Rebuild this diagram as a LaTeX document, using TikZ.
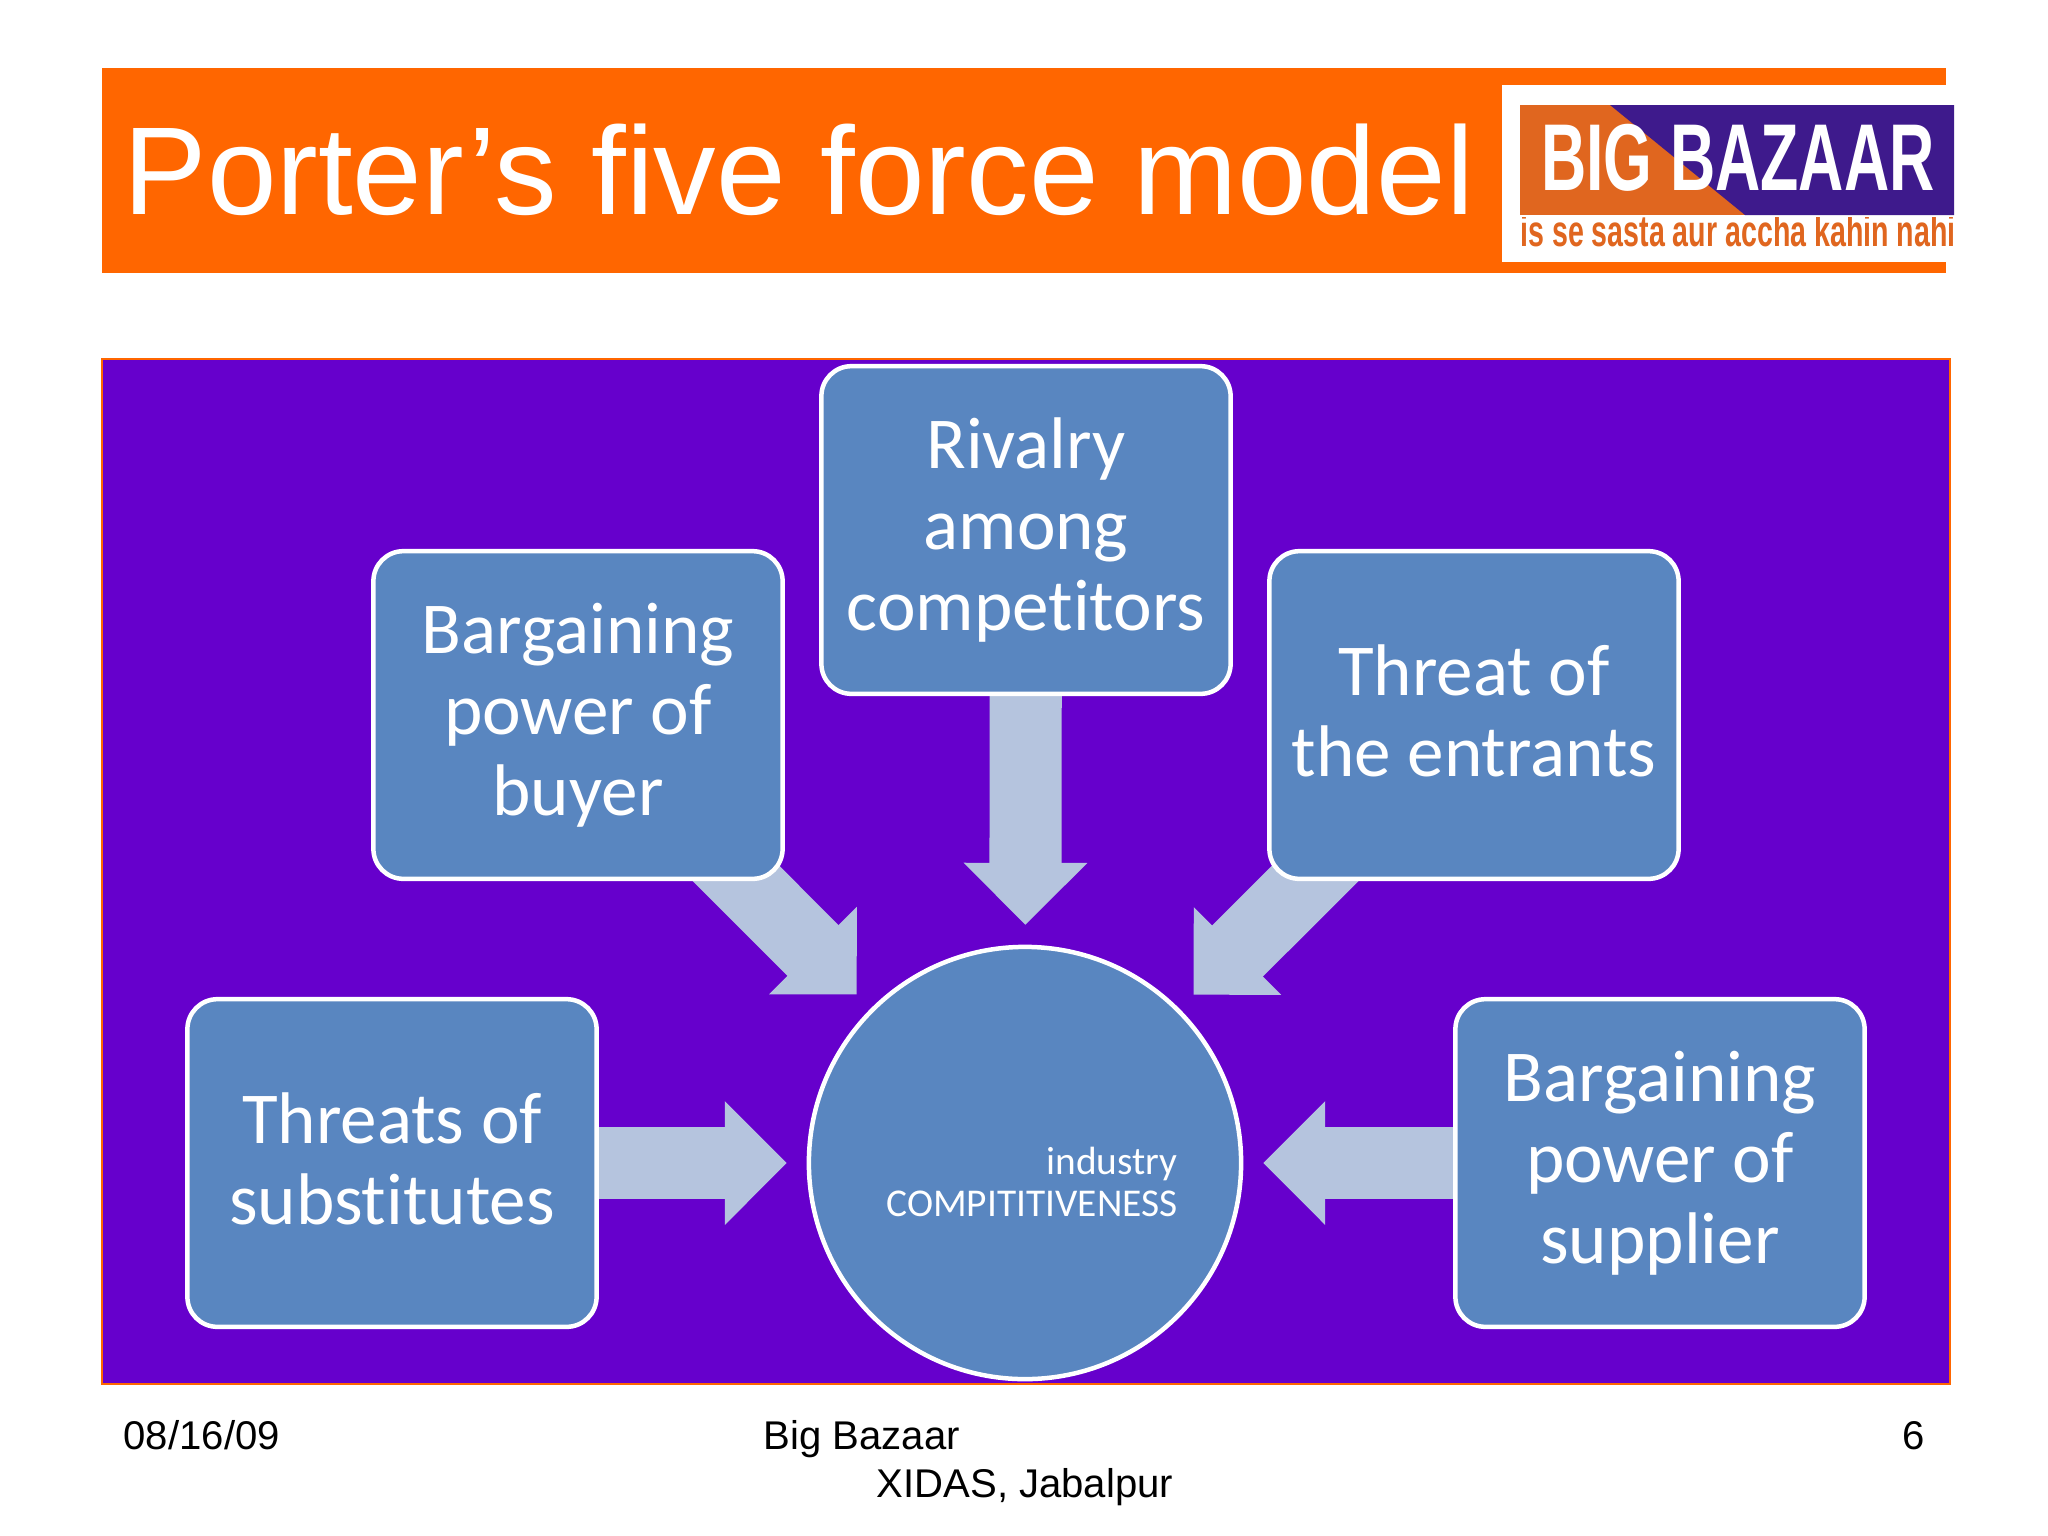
\documentclass[tikz,border=0pt]{standalone}
\usepackage{fontspec}
\setmainfont{Carlito}[Ligatures=NoCommon]
\newfontfamily\slidefont{Liberation Sans}
\usetikzlibrary{arrows.meta,backgrounds}
\definecolor{bannerorange}{HTML}{FF6600}
\definecolor{panelpurple}{HTML}{6600CC}
\definecolor{boxblue}{HTML}{5986C0}
\definecolor{arrowblue}{HTML}{B5C4DE}
\definecolor{logoorange}{HTML}{E0661F}
\definecolor{logopurple}{HTML}{3E1A8C}
\def\lowroom{\rule[-.12em]{0pt}{1pt}}
\tikzset{
  forcebox/.style={draw=white,fill=boxblue,line width=.045cm,rounded corners=.3cm,
    minimum width=4.09cm,minimum height=3.275cm,outer sep=0pt,inner sep=0pt,
    text=white,align=center,font=\fontsize{20.8}{23}\selectfont},
  forcearrow/.style={draw=arrowblue,line width=.72cm,shorten >=.22cm,
    -{Triangle[width=1.2cm,length=.62cm]}},
  footer/.style={font=\slidefont\fontsize{11.4}{11.4}\selectfont,text=black,inner sep=0pt}
}
\begin{document}
\begin{tikzpicture}[x=.01cm,y=-.01cm]
  \useasboundingbox (0,0) rectangle (2048,1536);
  % slide header
  \fill[bannerorange] (102,68) rectangle (1946,273);
  \node[anchor=base west,inner sep=0pt,text=white,font=\slidefont\fontsize{35.55}{36}\selectfont] (title) at (123,214) {Porter’s five force model};
  \fill[white] (1502,85) rectangle (1960,262);
  \fill[logoorange] (1520,105) rectangle (1954,215);
  \fill[logopurple] (1610,105) -- (1954,105) -- (1954,215) -- (1745,215) -- cycle;
  \node[inner sep=0pt,text=white,font=\slidefont\bfseries\fontsize{27}{27}\selectfont,xscale=.66] (logoname) at (1738,158) {BIG BAZAAR};
  \begin{scope}
    \clip (1520,217) rectangle (1954,250);
    \node[inner sep=0pt,text=logoorange,font=\slidefont\bfseries\fontsize{12.5}{12.5}\selectfont,xscale=.65,anchor=west] (logotag) at (1520,231) {is se sasta aur accha kahin nahi!};
  \end{scope}
  % purple panel
  \begin{scope}[on background layer]
    \draw[bannerorange,fill=panelpurple,line width=.02cm] (102,359) rectangle (1950,1384);
  \end{scope}
  % the forces
  \node[forcebox] (rivalry) at (1026,530) {Rivalry\\among\\competitors};
  \node[forcebox] (buyer) at (578,715) {Bargaining\\power of\\buyer};
  \node[forcebox] (entrants) at (1474,715) {Threat of\\the entrants\lowroom};
  \node[forcebox] (substitutes) at (392,1163) {Threats of\\substitutes\lowroom};
  \node[forcebox] (supplier) at (1660,1163) {Bargaining\\power of\\supplier};
  \node[circle,draw=white,fill=boxblue,line width=.045cm,minimum size=4.32cm,outer sep=0pt,inner sep=0pt] (hub) at (1025,1163) {};
  \node[inner sep=0pt,text=white,align=right,font=\fontsize{11.2}{11.9}\selectfont] (hublabel) at (1032,1182) {industry\\COMPITITIVENESS};
  \begin{scope}[on background layer]
    \foreach \force in {rivalry,buyer,entrants,substitutes,supplier}
      \draw[forcearrow] (\force.center) -- (hub);
  \end{scope}
  % footer
  \node[footer,anchor=base west] (date) at (123,1449) {08/16/09};
  \node[footer,anchor=base west] (place) at (763,1449) {Big Bazaar};
  \node[footer,anchor=base west] (school) at (876,1497) {XIDAS, Jabalpur};
  \node[footer,anchor=base east] (page) at (1925,1449) {6};
\end{tikzpicture}
\end{document}
